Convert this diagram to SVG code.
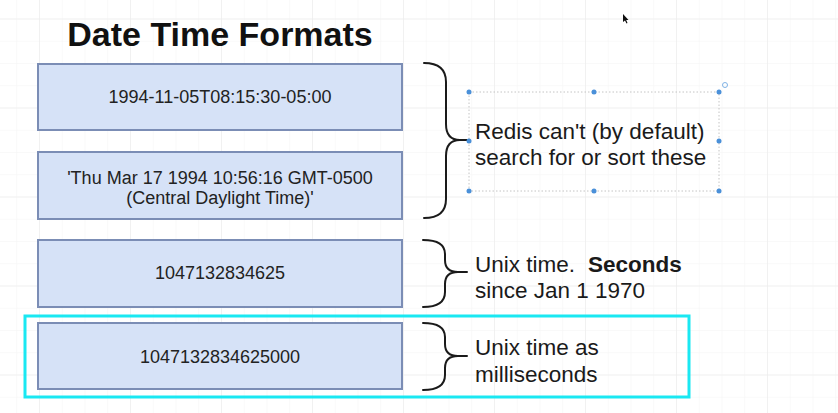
<svg xmlns="http://www.w3.org/2000/svg" width="838" height="413" viewBox="0 0 838 413">
<style>
.box{fill:#d6e2f7;stroke:#7b8db5;stroke-width:2}
.bt{font-family:"Liberation Sans",Arial,sans-serif;font-size:18px;fill:#222;text-anchor:middle}
.lt{font-family:"Liberation Sans",Arial,sans-serif;font-size:22.5px;fill:#1a1a1a}
.brace{fill:none;stroke:#1a1a1a;stroke-width:2;stroke-linecap:round;stroke-linejoin:round}
.h{fill:#4a90d9}
</style>
<defs>
<pattern id="minor" patternUnits="userSpaceOnUse" x="39" y="18.5" width="22.75" height="22.25">
<path d="M0,0 V22.25 M0,0 H22.75" fill="none" stroke="#f4f4f4" stroke-width="1"/>
</pattern>
<pattern id="major" patternUnits="userSpaceOnUse" x="39" y="18.5" width="91" height="89">
<path d="M0,0 V89 M0,0 H91" fill="none" stroke="#e9e9e9" stroke-width="1"/>
</pattern>
</defs>
<rect width="838" height="413" fill="#ffffff"/>
<rect width="838" height="413" fill="url(#minor)"/>
<rect width="838" height="413" fill="url(#major)"/>

<g id="title">
<text x="220" y="45.5" font-family="'Liberation Sans',Arial,sans-serif" font-weight="bold" font-size="34" fill="#111" text-anchor="middle">Date Time Formats</text>
</g>

<g id="highlight">
<rect x="25" y="316" width="664" height="81" fill="none" stroke="#1ae8f2" stroke-width="3"/>
</g>

<g id="box1">
<rect class="box" x="38" y="64" width="364" height="66"/>
<text class="bt" x="220" y="103">1994-11-05T08:15:30-05:00</text>
</g>
<g id="box2">
<rect class="box" x="38" y="152" width="364" height="67"/>
<text class="bt" x="220" y="184">'Thu Mar 17 1994 10:56:16 GMT-0500</text>
<text class="bt" x="220" y="203.5">(Central Daylight Time)'</text>
</g>
<g id="box3">
<rect class="box" x="38" y="240" width="364" height="67"/>
<text class="bt" x="220" y="279">1047132834625</text>
</g>
<g id="box4">
<rect class="box" x="38" y="323" width="364" height="66"/>
<text class="bt" x="220" y="362.5">1047132834625000</text>
</g>

<g id="connectors">
<path class="brace" d="M424,63 Q446,63 446,82 L446,124 Q446,140 460,140 L467,140 M460,140 Q446,140 446,156 L446,199 Q446,218 424,218"/>
<path class="brace" d="M423,240 Q445,240 445,254 L445,260 Q445,272 458,272 L467,272 M458,272 Q445,272 445,284 L445,292 Q445,307 423,307"/>
<path class="brace" d="M423,323 Q445,323 445,337 L445,344 Q445,356 458,356 L467,356 M458,356 Q445,356 445,368 L445,375 Q445,390 423,390"/>
</g>

<g id="label1">
<rect x="469" y="92" width="250" height="99" fill="none" stroke="#c4c4c4" stroke-width="1" stroke-dasharray="1.5 2"/>
<circle class="h" cx="469" cy="92" r="2.5"/>
<circle class="h" cx="594" cy="92" r="2.5"/>
<circle class="h" cx="719" cy="92" r="2.5"/>
<circle class="h" cx="469" cy="141" r="2.5"/>
<circle class="h" cx="719" cy="141" r="2.5"/>
<circle class="h" cx="469" cy="191" r="2.5"/>
<circle class="h" cx="594" cy="191" r="2.5"/>
<circle class="h" cx="719" cy="191" r="2.5"/>
<circle cx="725" cy="85" r="2.5" fill="none" stroke="#7fb2e5" stroke-width="1"/>
<text class="lt" x="475" y="138.5">Redis can't (by default)</text>
<text class="lt" x="475" y="165">search for or sort these</text>
</g>

<g id="label2">
<text class="lt" x="475" y="271.5">Unix time.</text>
<text class="lt" x="588" y="271.5" font-weight="bold">Seconds</text>
<text class="lt" x="475" y="297.5">since Jan 1 1970</text>
</g>

<g id="label3">
<text class="lt" x="475" y="355">Unix time as</text>
<text class="lt" x="475" y="381.5">milliseconds</text>
</g>

<g id="cursor">
<path d="M623,14 L623,22 L625,20.5 L626.5,23.5 L627.5,23 L626.2,20 L628.5,20 Z" fill="#111"/>
</g>
</svg>
